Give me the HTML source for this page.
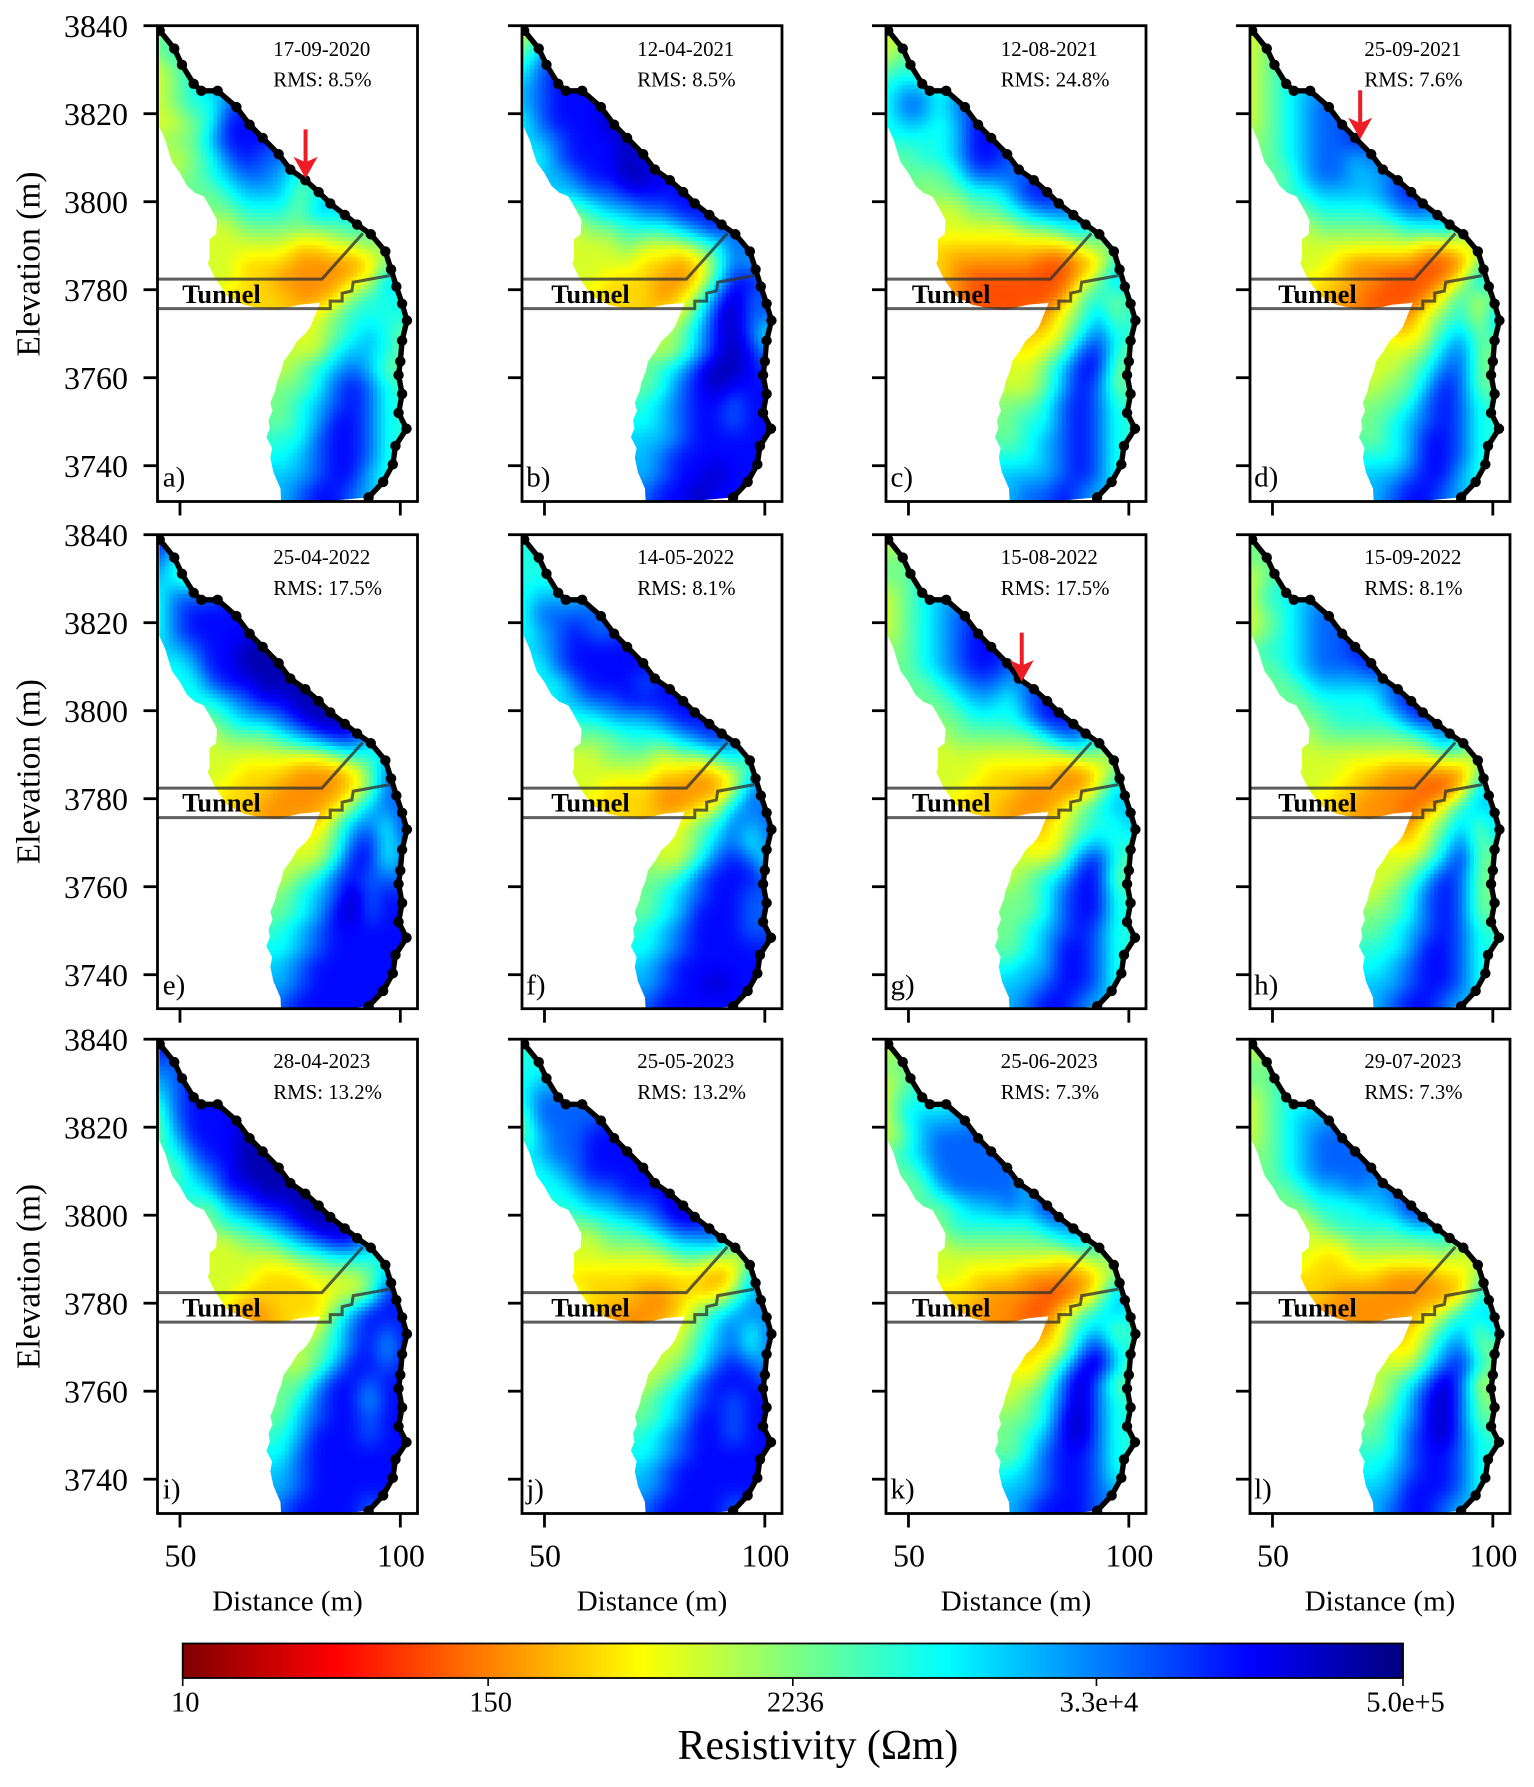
<!DOCTYPE html>
<html lang="en">
<head>
<meta charset="utf-8">
<title>Resistivity time-lapse sections</title>
<style>
html,body{margin:0;padding:0;background:#fff;}
svg{display:block;position:absolute;left:0;top:0;}
text{font-family:"Liberation Serif",serif;fill:#000;}
.date{font-size:20.8px;}
.letter{font-size:29px;}
.tunnel{font-size:26.5px;font-weight:bold;}
.axis-title{font-size:29px;text-anchor:middle;}
.y-title{font-size:33.5px;text-anchor:middle;}
.tick{font-size:32px;}
.cb{font-size:28.5px;text-anchor:middle;}
</style>
</head>
<body>
<svg id="fig" width="1534" height="1787" viewBox="0 0 1534 1787" xmlns="http://www.w3.org/2000/svg">
<rect x="0" y="0" width="1534" height="1787" fill="#fff"/>
<defs id="defs"></defs>
<g id="panels"></g>
<g id="colorbar"></g>
<g id="labels"></g>

<g>
<text class="y-title" transform="translate(39.5,264) rotate(-90)">Elevation (m)</text>
<text class="y-title" transform="translate(39.5,771.7) rotate(-90)">Elevation (m)</text>
<text class="y-title" transform="translate(39.5,1276.4) rotate(-90)">Elevation (m)</text>
</g>
<g>
<text class="axis-title" x="287.5" y="1610.7">Distance (m)</text>
<text class="axis-title" x="652" y="1610.7">Distance (m)</text>
<text class="axis-title" x="1016" y="1610.7">Distance (m)</text>
<text class="axis-title" x="1380" y="1610.7">Distance (m)</text>
</g>

<g>
<text class="tunnel" x="182.2" y="303">Tunnel</text>
<text class="date" x="273.3" y="55.8">17-09-2020</text>
<text class="date" x="273.3" y="86.7">RMS: 8.5%</text>
<text class="letter" x="162.8" y="486.5">a)</text>
</g>
<g>
<text class="tunnel" x="551.2" y="303">Tunnel</text>
<text class="date" x="637.3" y="55.8">12-04-2021</text>
<text class="date" x="637.3" y="86.7">RMS: 8.5%</text>
<text class="letter" x="526.2" y="486.5">b)</text>
</g>
<g>
<text class="tunnel" x="911.9" y="303">Tunnel</text>
<text class="date" x="1000.8" y="55.8">12-08-2021</text>
<text class="date" x="1000.8" y="86.7">RMS: 24.8%</text>
<text class="letter" x="890.5" y="486.5">c)</text>
</g>
<g>
<text class="tunnel" x="1278.2" y="303">Tunnel</text>
<text class="date" x="1364.4" y="55.8">25-09-2021</text>
<text class="date" x="1364.4" y="86.7">RMS: 7.6%</text>
<text class="letter" x="1254.1" y="486.5">d)</text>
</g>
<g>
<text class="tunnel" x="182.2" y="811.7">Tunnel</text>
<text class="date" x="273.3" y="563.8">25-04-2022</text>
<text class="date" x="273.3" y="595">RMS: 17.5%</text>
<text class="letter" x="162.8" y="994.5">e)</text>
</g>
<g>
<text class="tunnel" x="551.2" y="811.7">Tunnel</text>
<text class="date" x="637.3" y="563.8">14-05-2022</text>
<text class="date" x="637.3" y="595">RMS: 8.1%</text>
<text class="letter" x="526.2" y="994.5">f)</text>
</g>
<g>
<text class="tunnel" x="911.9" y="811.7">Tunnel</text>
<text class="date" x="1000.8" y="563.8">15-08-2022</text>
<text class="date" x="1000.8" y="595">RMS: 17.5%</text>
<text class="letter" x="890.5" y="994.5">g)</text>
</g>
<g>
<text class="tunnel" x="1278.2" y="811.7">Tunnel</text>
<text class="date" x="1364.4" y="563.8">15-09-2022</text>
<text class="date" x="1364.4" y="595">RMS: 8.1%</text>
<text class="letter" x="1254.1" y="994.5">h)</text>
</g>
<g>
<text class="tunnel" x="182.2" y="1316.7">Tunnel</text>
<text class="date" x="273.3" y="1067.8">28-04-2023</text>
<text class="date" x="273.3" y="1099">RMS: 13.2%</text>
<text class="letter" x="162.8" y="1498.5">i)</text>
</g>
<g>
<text class="tunnel" x="551.2" y="1316.7">Tunnel</text>
<text class="date" x="637.3" y="1067.8">25-05-2023</text>
<text class="date" x="637.3" y="1099">RMS: 13.2%</text>
<text class="letter" x="526.2" y="1498.5">j)</text>
</g>
<g>
<text class="tunnel" x="911.9" y="1316.7">Tunnel</text>
<text class="date" x="1000.8" y="1067.8">25-06-2023</text>
<text class="date" x="1000.8" y="1099">RMS: 7.3%</text>
<text class="letter" x="890.5" y="1498.5">k)</text>
</g>
<g>
<text class="tunnel" x="1278.2" y="1316.7">Tunnel</text>
<text class="date" x="1364.4" y="1067.8">29-07-2023</text>
<text class="date" x="1364.4" y="1099">RMS: 7.3%</text>
<text class="letter" x="1254.1" y="1498.5">l)</text>
</g>

<text x="818" y="1759" style="font-size:41.8px;text-anchor:middle">Resistivity (Ωm)</text>
</svg>

<script>
// ---- chart data -------------------------------------------------------
const elevationTicks = [3840, 3820, 3800, 3780, 3760, 3740];
const distanceTicks = [50, 100];
const colorbarValues = [10, 150, 2236, 33000, 500000];
const colorbarLabels = ['10', '150', '2236', '3.3e+4', '5.0e+5'];

// Surface profile (distance m / elevation m)
const terrainDistance = [45.4,48.7,50.45,53.1,54.84,58.55,62.8,65.8,68.76,72.4,75.04,78.44,81.47,84.1,87.4,90.2,93.3,96.6,97.9,99.1,100.4,101.5,100.4,100,99.6,100.4,99.6,101.4,98.9,98.3,96.1,92.8];
const terrainElevation = [3838.9,3834.8,3831.1,3826.8,3825.2,3825.2,3821.5,3817.5,3814.5,3810.8,3807.3,3804.9,3802.2,3799.6,3797,3794.8,3792.6,3788.7,3784.6,3780.7,3776.8,3773,3768.4,3763.7,3760.6,3756.3,3752,3748.4,3744.5,3740.3,3736.3,3732.8];

// Lower/left limit of the inverted section, bottom to top
const limitDistance = [73,72.8,71.2,70.5,70.9,69.6,70.4,70.1,71,70.5,71.6,72,73,73.5,75.2,76.6,78.4,79.6,81.8,77.3,72,68,64.4,60.7,58,56.3,56.7,56.7,58.2,58.4,56.8,55.4,53.4,51.6,50,48.2,47.4,46.7,45.3,45.3];
const limitElevation = [3731,3734.8,3738.5,3741.8,3744,3746.5,3748.5,3750.4,3752.5,3754.3,3757,3759,3761.5,3763.7,3766,3768.4,3770,3771.6,3777,3776.6,3775.4,3775.8,3776.6,3778.6,3782.5,3786,3787,3791.5,3792.6,3795.8,3798.8,3801.2,3802,3803.6,3806.5,3809,3811.5,3813.9,3817,3838.5];

// Tunnel outline
const tunnelUpperDistance = [44.9,82.2,91.5];
const tunnelUpperElevation = [3782.4,3782.4,3792.8];
const tunnelLowerDistance = [44.9,84.1,84.1,86.8,86.8,89,89.3,97.6];
const tunnelLowerElevation = [3775.7,3775.7,3777.4,3777.4,3779.2,3779.7,3781.7,3783.2];

// Colour level scale: level L corresponds to log10(resistivity) = levelLog10[L]
const levelLog10 = [1.94,2.25,2.58,2.95,3.4,3.82,4.24,4.66,5.08,5.48];

// Resistivity sections: level per mesh node, read row by row from 3838 m down (4 m step),
// first value of a row sits at distance 45 + 4*rowStart[row] (4 m step).
const rowStart = [0,0,0,0,0,0,1,1,2,3,3,3,3,3,3,4,9,9,8,7,7,7,7,7,7,7,7];

const panelA = [[4],[4,5],[3,4,5],[3,4,5,6],[3,4,5,5,7],[3,3,4,5,8,8],[4,4,6,8,8,8],[3,4,5,7,8,7,7],[4,5,6,7,7,6,5],[4,5,6,6,6,4,5],[4,4,5,5,5,4,6,6],[3,3,4,4,4,4,4,4,5],[3,3,3,3,3,2,2,3,3,4],[3,3,2,2,2,1,1,1,1,2,4],[3,3,2,2,1,1,1,1,2,3,6],[2,2,2,2,1,1,2,4,5,5],[3,4,5,5,5,5],[3,4,5,6,5,4],[3,3,5,6,6,5,4],[3,4,5,6,7,6,4],[4,4,5,7,8,7,5],[4,5,6,7,8,7,5],[4,5,6,8,8,7,5],[5,5,7,8,8,7,5],[5,6,7,8,8,7,5],[6,6,7,8,8,6,5],[6,7,8,8,7,6]];
const panelB = [[3],[4,6],[5,7,8],[6,7,8,8],[6,7,8,8,8],[5,7,8,8,8,9],[6,7,8,8,8,9],[5,7,8,8,8,9,8],[6,7,8,8,9,9,8],[6,7,7,8,8,8,8],[4,5,6,6,7,7,8,8],[3,4,4,5,5,5,6,7,8],[3,3,3,4,3,3,3,4,5,7],[3,3,3,3,2,2,1,2,4,7,6],[3,3,2,2,2,1,1,2,5,8,8],[2,2,2,2,1,2,4,7,9,7],[3,5,8,9,7,7],[4,6,8,9,7,5],[3,4,6,8,9,8,6],[4,5,6,8,9,9,8],[4,5,7,8,9,8,8],[5,6,7,8,8,7,8],[5,6,7,8,8,7,8],[6,6,7,8,8,8,8],[6,7,8,8,8,8,8],[6,7,8,8,9,8,8],[7,8,8,9,8,8]];
const panelC = [[3],[3,4],[4,5,4],[5,6,6,5],[5,7,7,5,7],[5,6,6,5,6,8],[5,5,5,6,8,8],[4,5,5,6,8,8,7],[4,4,5,7,7,7,7],[4,4,5,5,6,8,8],[3,3,4,4,5,6,7,7],[3,3,3,3,3,4,4,5,6],[2,2,2,2,2,2,2,2,3,4],[2,1,1,1,1,1,0,0,1,2,5],[2,1,0,0,0,0,0,0,2,4,6],[1,0,0,0,0,0,1,4,5,4],[1,3,4,6,4,5],[2,3,5,7,5,5],[2,3,4,7,8,5,4],[3,3,4,6,8,8,4],[3,3,4,6,8,7,4],[4,4,5,7,8,7,5],[4,5,5,7,8,7,5],[4,5,6,7,8,7,5],[5,5,6,7,8,7,5],[6,6,6,7,8,7,5],[6,7,7,8,7,6]];
const panelD = [[3],[3,4],[3,4,5],[3,4,5,6],[3,4,5,6,7],[3,4,5,6,7,7],[4,5,6,7,7,8],[4,5,6,7,7,6,7],[4,6,7,7,6,6,7],[5,6,6,6,6,7,8],[4,5,5,5,5,6,7,7],[3,4,4,4,4,4,5,5,6],[3,3,3,3,3,3,3,2,2,3],[3,3,2,1,1,1,1,0,0,1,4],[3,2,2,1,1,0,0,0,1,3,6],[2,1,1,0,0,0,1,3,5,3],[1,3,4,5,3,6],[2,3,5,6,4,5],[3,3,4,6,7,4,4],[3,3,4,5,7,7,4],[3,4,4,6,8,7,4],[4,4,5,7,8,7,5],[4,5,6,7,8,7,5],[4,5,6,8,8,7,5],[5,5,6,8,8,7,5],[6,6,7,8,8,6,5],[6,7,8,8,7,6]];
const panelE = [[8],[7,5],[6,5,4],[5,7,7,7],[5,7,8,8,8],[5,7,8,8,8,8],[6,7,8,8,9,9],[5,6,8,8,9,9,9],[5,7,8,8,9,9,9],[5,6,7,8,8,9,9],[4,5,6,6,7,8,9,9],[3,4,4,4,5,6,7,8,8],[3,3,3,3,3,3,3,4,5,5],[3,3,2,2,2,1,1,1,2,4,7],[3,2,2,2,1,1,1,1,2,4,7],[2,2,1,1,1,1,2,4,6,7],[2,4,6,7,5,8],[3,4,7,8,5,7],[3,3,5,8,8,5,7],[3,4,5,7,8,7,7],[4,5,6,7,9,7,8],[4,5,6,8,9,7,8],[5,6,7,8,8,8,8],[5,6,7,8,8,8,8],[6,7,8,8,8,8,8],[6,7,8,8,8,8,8],[7,8,8,8,8,8]];
const panelF = [[5],[5,5],[5,5,5],[5,6,6,6],[5,7,7,7,7],[5,6,7,8,7,7],[6,7,8,8,8,8],[5,7,8,8,8,8,8],[5,7,8,8,8,7,8],[6,7,7,8,8,8,8],[5,5,6,6,6,7,8,8],[4,4,4,5,5,5,6,7,8],[3,3,4,4,4,3,4,4,5,6],[3,3,3,3,3,2,2,1,2,3,5],[3,3,2,2,2,1,1,1,1,3,7],[2,2,2,2,1,1,2,3,6,7],[3,4,5,7,6,7],[3,4,6,7,5,7],[3,3,5,7,8,7,5],[4,4,5,7,8,8,8],[4,5,6,7,8,8,7],[4,5,6,8,8,8,7],[5,6,7,8,8,8,7],[5,6,7,8,8,8,8],[6,7,8,8,8,8,8],[6,7,8,8,9,8,8],[7,8,8,8,8,8]];
const panelG = [[3],[4,4],[4,4,5],[3,4,5,6],[3,4,5,6,7],[3,4,5,6,7,8],[4,5,6,7,8,8],[4,5,6,7,8,8,7],[4,5,6,7,7,6,7],[4,5,6,6,5,7,8],[4,4,5,5,5,6,8,8],[3,4,4,4,4,4,5,7,7],[3,3,3,3,3,3,3,3,4,4],[3,3,3,2,2,2,2,1,1,2,4],[3,3,2,2,2,1,1,1,1,3,6],[2,2,2,1,1,1,2,4,5,6],[2,3,4,5,5,6],[2,3,5,6,5,5],[3,3,4,7,8,5,4],[3,4,5,6,8,8,4],[4,4,5,7,8,8,5],[4,4,5,7,8,8,5],[4,5,6,7,8,7,5],[4,5,6,8,8,7,5],[5,6,6,8,8,7,5],[6,6,7,8,8,7,5],[6,7,8,8,7,6]];
const panelH = [[4],[4,4],[3,4,5],[3,5,5,6],[3,4,5,6,7],[3,4,5,6,7,7],[5,5,6,7,7,8],[4,5,6,7,7,7,8],[4,5,6,6,6,6,7],[4,5,5,5,5,7,8],[4,4,5,5,5,5,7,8],[3,4,4,4,4,4,4,5,7],[3,3,3,3,3,3,3,3,4,4],[3,3,3,2,2,1,1,1,1,1,4],[3,3,2,2,1,1,1,0,0,2,6],[2,2,1,1,1,0,1,3,5,6],[1,3,4,6,4,6],[2,3,5,7,4,5],[3,3,4,6,8,4,4],[3,3,4,6,8,7,4],[3,4,5,7,8,7,4],[4,4,5,7,8,7,4],[4,5,6,7,8,7,5],[5,5,6,8,8,7,5],[5,6,7,8,8,7,5],[6,6,7,8,8,7,5],[6,7,8,8,7,6]];
const panelI = [[8],[7,7],[6,7,8],[5,7,8,8],[4,7,8,8,8],[4,6,8,8,8,9],[5,7,8,8,9,9],[4,6,7,8,9,9,9],[5,6,8,8,9,9,9],[4,6,7,8,8,9,9],[4,5,5,6,7,8,9,9],[3,3,4,4,5,6,7,8,8],[3,3,3,3,3,4,4,5,5,5],[3,3,3,2,2,2,3,3,3,4,6],[3,3,2,2,2,2,2,3,3,4,8],[2,1,1,2,2,2,4,6,8,8],[3,5,7,8,7,8],[4,5,7,8,6,8],[3,4,6,8,8,7,8],[4,4,6,8,8,7,8],[4,5,7,8,8,6,8],[4,6,7,8,8,7,8],[5,6,8,8,8,7,8],[5,7,8,8,8,8,8],[6,7,8,8,8,8,8],[6,7,8,8,8,8,8],[7,8,8,8,8,7]];
const panelJ = [[5],[5,5],[5,6,6],[5,7,7,7],[4,7,7,7,7],[4,6,7,7,8,8],[6,7,7,8,8,8],[5,6,7,8,8,8,8],[5,6,7,7,8,8,8],[5,6,6,7,7,8,9],[4,4,5,5,6,7,8,8],[3,3,4,4,4,5,6,6,7],[3,3,3,3,3,3,4,4,3,3],[2,2,2,2,2,2,2,2,1,2,6],[3,2,2,2,1,1,2,2,2,4,6],[2,1,1,1,1,2,4,5,6,7],[3,4,6,7,5,7],[3,5,6,7,5,7],[3,4,5,7,8,7,6],[3,4,5,7,8,8,8],[4,5,6,7,8,7,8],[4,5,6,8,8,7,8],[5,6,7,8,8,7,8],[5,6,7,8,8,8,8],[6,7,8,8,8,8,8],[6,7,8,8,8,8,8],[7,8,8,8,8,7]];
const panelK = [[3],[4,4],[3,4,5],[3,5,5,5],[3,5,6,6,6],[3,4,6,7,7,7],[5,6,7,7,7,7],[4,5,7,7,7,7,7],[4,6,7,7,7,7,6],[4,5,6,6,7,6,8],[4,5,5,5,5,5,6,7],[3,4,4,4,4,4,4,5,6],[3,3,3,3,3,3,3,2,3,4],[3,3,2,2,2,1,1,1,1,2,4],[2,2,2,1,1,1,0,0,1,3,6],[2,1,1,1,0,0,2,4,5,6],[1,3,5,6,4,5],[2,3,6,8,5,5],[2,3,5,8,9,6,4],[3,3,4,7,9,7,4],[3,4,5,7,9,7,5],[4,4,5,8,9,7,5],[4,5,6,8,9,7,5],[4,5,7,8,8,7,5],[5,6,7,8,8,7,5],[6,6,7,8,8,7,6],[6,7,8,8,8,7]];
const panelL = [[3],[4,4],[4,4,5],[3,4,5,5],[3,4,5,6,6],[3,4,5,6,7,7],[4,5,6,7,7,7],[4,5,6,7,7,7,7],[4,5,6,6,7,6,7],[4,5,5,5,6,6,8],[3,4,5,5,5,5,6,7],[3,3,3,4,4,4,4,4,5],[3,2,2,3,3,3,3,3,3,3],[2,2,2,2,2,1,1,1,2,2,4],[2,2,1,1,1,1,1,1,1,2,5],[1,1,1,1,1,1,2,3,5,6],[2,3,5,6,4,6],[2,4,6,7,4,4],[3,3,5,7,8,5,4],[3,4,5,7,9,7,3],[3,4,6,8,9,7,4],[4,5,6,8,9,7,4],[4,5,7,8,9,7,5],[5,5,7,8,8,7,5],[5,6,7,8,8,7,5],[6,6,8,8,8,7,5],[6,7,8,8,7,6]];
const panelSections = [panelA,panelB,panelC,panelD,panelE,panelF,panelG,panelH,panelI,panelJ,panelK,panelL];

// Red arrows: panel index and tip (distance m / elevation m)
const arrowPanels = [0, 3, 6];
const arrowDistance = [78.5, 69.9, 75.7];
const arrowElevation = [3805.3, 3814.2, 3806.6];

// ---- layout ----------------------------------------------------------
const NS = 'http://www.w3.org/2000/svg';
const colLeft = [157.5, 522, 886, 1250];
const rowTop = [25.7, 534.7, 1039.2];
const rowBottom = [501.5, 1008.7, 1513.5];
const axisWidth = 260;
const xMin = 44.9, pxPerMetreX = 4.407, yMax = 3840, pxPerMetreY = 4.4;
const cellPx = 4;

function node(tag, attrs, parent) {
  const el = document.createElementNS(NS, tag);
  for (const k in attrs) el.setAttribute(k, attrs[k]);
  if (parent) parent.appendChild(el);
  return el;
}
function jetReversed(t) {
  const u = 1 - Math.min(1, Math.max(0, t));
  const c = v => Math.round(255 * Math.min(1, Math.max(0, v)));
  const r = c(Math.min(4 * u - 1.5, -4 * u + 4.5));
  const g = c(Math.min(4 * u - 0.5, -4 * u + 3.5));
  const b = c(Math.min(4 * u + 0.5, -4 * u + 2.5));
  return 'rgb(' + r + ',' + g + ',' + b + ')';
}
function logPosition(ohm) { return (Math.log10(ohm) - 1) / (Math.log10(500000) - 1); }
function levelColor(level) {
  const l = Math.min(8.999, Math.max(0, level));
  const k = Math.floor(l), f = l - k;
  const lg = levelLog10[k] * (1 - f) + levelLog10[k + 1] * f;
  return jetReversed((lg - 1) / (Math.log10(500000) - 1));
}

function buildGrid(section) {
  const rows = 27, cols = 15;
  let g = [];
  for (let j = 0; j < rows; j++) {
    g.push(new Array(cols).fill(NaN));
    section[j].forEach(function (v, k) { g[j][rowStart[j] + k] = v; });
  }
  for (let pass = 0; pass < 24; pass++) {
    const n = g.map(r => r.slice());
    for (let j = 0; j < rows; j++) for (let i = 0; i < cols; i++) {
      if (!isNaN(g[j][i])) continue;
      let s = 0, c = 0;
      for (let b = -1; b <= 1; b++) for (let a = -1; a <= 1; a++) {
        const v = (g[j + b] || [])[i + a];
        if (v !== undefined && !isNaN(v)) { s += v; c++; }
      }
      if (c) n[j][i] = s / c;
    }
    g = n;
  }
  return g;
}
function splineWeights(a) {
  const a2 = a * a, a3 = a2 * a;
  return [(1 - a) * (1 - a) * (1 - a) / 6, (3 * a3 - 6 * a2 + 4) / 6, (-3 * a3 + 3 * a2 + 3 * a + 1) / 6, a3 / 6];
}
function sample(g, X, Y) {
  const fi = (X - 45) / 4, fj = (3838 - Y) / 4;
  const i = Math.floor(fi), j = Math.floor(fj);
  const wx = splineWeights(fi - i), wy = splineWeights(fj - j);
  let s = 0;
  for (let b = 0; b < 4; b++) {
    const jj = Math.min(26, Math.max(0, j + b - 1));
    for (let a = 0; a < 4; a++) {
      const ii = Math.min(14, Math.max(0, i + a - 1));
      s += wx[a] * wy[b] * g[jj][ii];
    }
  }
  return s;
}
function inside(px, py, poly) {
  let hit = false;
  for (let i = 0, j = poly.length - 1; i < poly.length; j = i++) {
    const a = poly[i], b = poly[j];
    if ((a[1] > py) !== (b[1] > py) && px < (b[0] - a[0]) * (py - a[1]) / (b[1] - a[1]) + a[0]) hit = !hit;
  }
  return hit;
}

const panelsGroup = document.getElementById('panels');
const defs = document.getElementById('defs');
const labelsGroup = document.getElementById('labels');
const letters = 'abcdefghijkl';

panelSections.forEach(function (section, index) {
  const col = index % 4, row = Math.floor(index / 4);
  const left = colLeft[col], top = rowTop[row], bottom = rowBottom[row];
  const x = d => left + (d - xMin) * pxPerMetreX;
  const y = e => top + (yMax - e) * pxPerMetreY;

  const g = node('g', {}, panelsGroup);
  
  

  const axClip = node('clipPath', { id: 'ax' + index }, defs);
  node('rect', { x: left, y: top, width: axisWidth, height: bottom - top }, axClip);

  const polygon = [];
  terrainDistance.forEach(function (d, i) { polygon.push([x(d), y(terrainElevation[i])]); });
  limitDistance.forEach(function (d, i) { polygon.push([x(d), y(limitElevation[i])]); });
  const maskClip = node('clipPath', { id: 'mask' + index }, defs);
  node('polygon', { points: polygon.map(p => p.join(',')).join(' ') }, maskClip);

  const grid = buildGrid(section);
  const clipOuter = node('g', { 'clip-path': 'url(#ax' + index + ')' }, g);
  const cells = node('g', { 'clip-path': 'url(#mask' + index + ')', 'shape-rendering': 'crispEdges' }, clipOuter);
  
  

  for (let py = Math.floor(top); py < bottom; py += cellPx) {
    for (let px = Math.floor(left); px < left + axisWidth; px += cellPx) {
      const near = inside(px, py, polygon) || inside(px + cellPx, py, polygon) || inside(px, py + cellPx, polygon) || inside(px + cellPx, py + cellPx, polygon);
      if (!near) continue;
      const d = xMin + (px + cellPx / 2 - left) / pxPerMetreX;
      const e = yMax - (py + cellPx / 2 - top) / pxPerMetreY;
      const cell = node('rect', { x: px, y: py, width: cellPx, height: cellPx, fill: levelColor(sample(grid, d, e)) }, cells);
      
      
    }
  }

  const upper = node('polyline', { points: tunnelUpperDistance.map((d, i) => x(d) + ',' + y(tunnelUpperElevation[i])).join(' '), fill: 'none', stroke: 'rgba(50,50,50,0.78)', 'stroke-width': 3 }, clipOuter);
  
  
  const lower = node('polyline', { points: tunnelLowerDistance.map((d, i) => x(d) + ',' + y(tunnelLowerElevation[i])).join(' '), fill: 'none', stroke: 'rgba(50,50,50,0.78)', 'stroke-width': 3 }, clipOuter);
  
  

  const surface = node('polyline', { points: terrainDistance.map((d, i) => x(d) + ',' + y(terrainElevation[i])).join(' ') + ' ' + x(91.6) + ',' + y(3731), fill: 'none', stroke: '#000', 'stroke-width': 5.4, 'stroke-linejoin': 'round' }, clipOuter);
  
  
  terrainDistance.forEach(function (d, i) {
    const dot = node('circle', { cx: x(d), cy: y(terrainElevation[i]), r: 5.2, fill: '#000' }, clipOuter);
    
    
  });

  arrowPanels.forEach(function (p, i) {
    if (p !== index) return;
    const tx = x(arrowDistance[i]), ty = y(arrowElevation[i]);
    const pts = [[0, 0], [-12, -21.5], [-2, -17], [-2, -49], [2, -49], [2, -17], [12, -21.5]];
    const arrow = node('polygon', { points: pts.map(q => (tx + q[0]) + ',' + (ty + q[1])).join(' '), fill: '#ee1c25' }, g);
    
    
  });

  const frame = node('rect', { x: left, y: top, width: axisWidth, height: bottom - top, fill: 'none', stroke: '#000', 'stroke-width': 2.8 }, g);
  
  

  elevationTicks.forEach(function (e) {
    const t = node('line', { x1: left, x2: left - 14, y1: y(e), y2: y(e), stroke: '#000', 'stroke-width': 2.8 }, g);
    
    
    if (col === 0) {
      const l = node('text', { class: 'tick', x: 128, y: y(e) + 11.3, 'text-anchor': 'end' }, labelsGroup);
      l.textContent = e;
      
      
    }
  });
  distanceTicks.forEach(function (d) {
    const t = node('line', { x1: x(d), x2: x(d), y1: bottom, y2: bottom + 14, stroke: '#000', 'stroke-width': 2.8 }, g);
    
    
    if (row === 2) {
      const l = node('text', { class: 'tick', x: x(d) + 0.5, y: 1566.7, 'text-anchor': 'middle' }, labelsGroup);
      l.textContent = d;
      
      
    }
  });
});

// ---- colorbar --------------------------------------------------------
const cbGroup = document.getElementById('colorbar');
const cbLeft = 182.7, cbRight = 1403, cbTop = 1643.5, cbBottom = 1678;
const cbSteps = 256;
for (let i = 0; i < cbSteps; i++) {
  const w = (cbRight - cbLeft) / cbSteps;
  const seg = node('rect', { x: cbLeft + i * w, y: cbTop, width: w + 0.6, height: cbBottom - cbTop, fill: jetReversed((i + 0.5) / cbSteps) }, cbGroup);
  
  
}
const cbFrame = node('rect', { x: cbLeft, y: cbTop, width: cbRight - cbLeft, height: cbBottom - cbTop, fill: 'none', stroke: '#000', 'stroke-width': 1.8 }, cbGroup);


colorbarValues.forEach(function (v, i) {
  const px = cbLeft + logPosition(v) * (cbRight - cbLeft);
  const t = node('line', { x1: px, x2: px, y1: cbBottom, y2: cbBottom + 8, stroke: '#000', 'stroke-width': 1.6 }, cbGroup);
  
  
  const l = node('text', { class: 'cb', x: px + 2.5, y: 1711.7 }, cbGroup);
  l.textContent = colorbarLabels[i];
  
  
});
</script>
</body>
</html>
